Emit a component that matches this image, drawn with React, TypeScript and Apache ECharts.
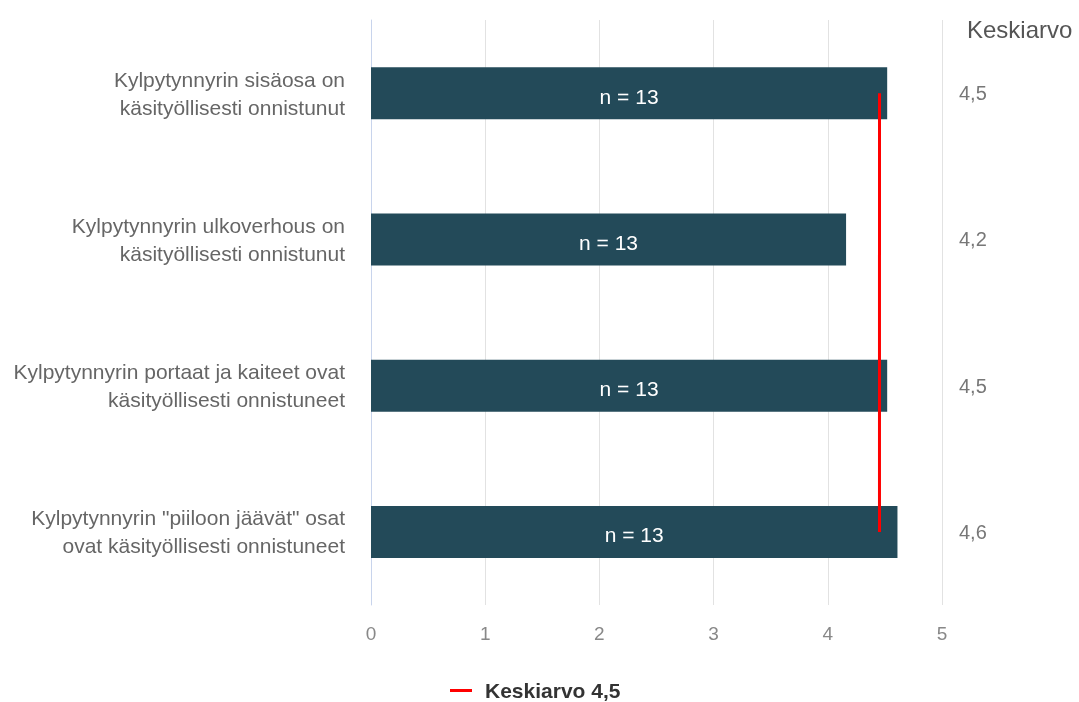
import React, { useEffect, useRef } from "react";
import * as echarts from "echarts";

const categories = [
  "Kylpytynnyrin sisäosa on\nkäsityöllisesti onnistunut",
  "Kylpytynnyrin ulkoverhous on\nkäsityöllisesti onnistunut",
  "Kylpytynnyrin portaat ja kaiteet ovat\nkäsityöllisesti onnistuneet",
  "Kylpytynnyrin \"piiloon jäävät\" osat\novat käsityöllisesti onnistuneet",
];
const averages = [4.52, 4.16, 4.52, 4.61];
const respondents = [13, 13, 13, 13];
const xTicks = [0, 1, 2, 3, 4, 5];

const fmt = (v: number) => (Math.round(v * 10) / 10).toFixed(1).replace(".", ",");
const overall = averages.reduce((a, b) => a + b, 0) / averages.length;
const meanName = `Keskiarvo ${fmt(overall)}`;

const FONT = "Liberation Sans, Arial, sans-serif";

export default function App() {
  const ref = useRef<HTMLDivElement>(null);

  useEffect(() => {
    if (!ref.current) return;
    const chart = echarts.init(ref.current, undefined, { renderer: "svg" });
    chart.setOption({
      animation: false,
      textStyle: { fontFamily: FONT },
      grid: { left: 371, right: 137, top: 20, bottom: 97 },
      legend: {
        top: 675,
        left: 445,
        data: [{ name: meanName, icon: "rect" }],
        itemWidth: 22,
        itemHeight: 3,
        itemGap: 10,
        textStyle: {
          fontSize: 21,
          fontWeight: "bold",
          color: "#333",
          fontFamily: FONT,
          padding: [0, 0, 0, 8],
        },
      },
      graphic: [
        {
          type: "text",
          left: 967,
          top: 17,
          style: { text: "Keskiarvo", fontSize: 24, fill: "#555", fontFamily: FONT },
        },
      ],
      xAxis: {
        type: "value",
        min: xTicks[0],
        max: xTicks[xTicks.length - 1],
        interval: 1,
        axisLine: { show: false },
        axisTick: { show: false },
        splitLine: { show: true, lineStyle: { color: "#e2e2e2", width: 1 } },
        axisLabel: { fontSize: 19, color: "#888", margin: 19 },
      },
      yAxis: [
        {
          type: "category",
          data: categories,
          inverse: true,
          axisLine: { show: true, lineStyle: { color: "#c8d4ec", width: 1 } },
          axisTick: { show: false },
          axisLabel: {
            fontSize: 21,
            color: "#666",
            margin: 26,
            lineHeight: 28,
            align: "right",
          },
        },
        {
          type: "category",
          data: averages.map(fmt),
          inverse: true,
          position: "right",
          axisLine: { show: false },
          axisTick: { show: false },
          axisLabel: {
            fontSize: 20,
            color: "#777",
            margin: 17,
            align: "left",
          },
        },
      ],
      series: [
        {
          type: "bar",
          name: "Keskiarvo",
          data: averages,
          barWidth: 52,
          yAxisIndex: 0,
          itemStyle: { color: "#234a59" },
          label: {
            show: true,
            position: "inside",
            offset: [0, 3],
            formatter: (p: any) => `n = ${respondents[p.dataIndex]}`,
            color: "#fff",
            fontSize: 21,
            fontFamily: FONT,
          },
        },
        {
          type: "line",
          name: meanName,
          yAxisIndex: 0,
          data: categories.map((_, i) => [overall, i]),
          symbol: "none",
          lineStyle: { color: "#ff0000", width: 3 },
          itemStyle: { color: "#ff0000" },
          z: 5,
        },
      ],
    });
    return () => chart.dispose();
  }, []);

  return (
    <div
      ref={ref}
      style={{ position: "fixed", left: 0, top: 0, width: 1079, height: 702 }}
    />
  );
}
